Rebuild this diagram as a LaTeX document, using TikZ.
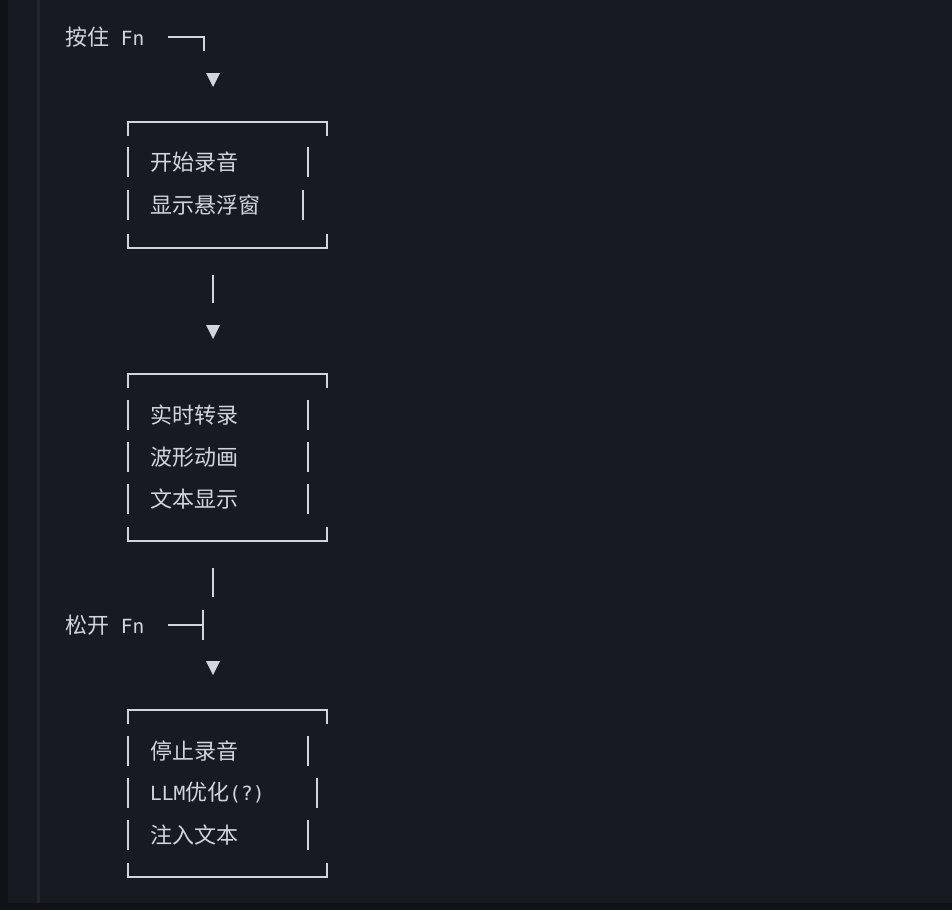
\documentclass[tikz,border=0pt]{standalone}
\usepackage{fontspec}
\setmainfont{DejaVu Sans Mono}
\newfontfamily\cjk{Noto Sans CJK SC}
\definecolor{bg}{HTML}{171B21}
\definecolor{bgdark}{HTML}{0F1216}
\definecolor{gut}{HTML}{22262D}
\definecolor{fg}{HTML}{D2D5DA}
\begin{document}
\begin{tikzpicture}[x=1pt,y=-1pt,
  txt/.style={anchor=west,inner sep=0pt,text=fg,font=\fontsize{19.5}{20}\selectfont},
  ln/.style={draw=fg,line width=1.4pt},
  tri/.style={fill=fg}]
\fill[bg] (0,0) rectangle (952,910);
\fill[bgdark] (0,0) rectangle (8,910);
\fill[gut] (37,0) rectangle (40,903);
\fill[bgdark] (0,903) rectangle (952,910);
\newcommand{\tri}[2]{\fill[tri] (#1-7,#2-7) -- (#1+7,#2-7) -- (#1,#2+7) -- cycle;}
\newcommand{\zh}[1]{{\cjk\fontsize{22}{24}\selectfont #1}}
\newcommand{\mybox}[2]{% top, bottom
  \draw[ln] (128,#1+14) -- (128,#1) -- (327,#1) -- (327,#1+14);
  \draw[ln] (128,#2-14) -- (128,#2) -- (327,#2) -- (327,#2-14);}
\newcommand{\bars}[2]{% y, right x
  \draw[ln] (128,#1-15) -- (128,#1+15);
  \draw[ln] (#2,#1-15) -- (#2,#1+15);}
% start
\node[txt] (press) at (65,37) {\zh{按住} Fn};
\coordinate (p1) at (204,37);
\draw[ln] (168,37) -- (p1) -- (204,51);
\tri{213}{80}
\mybox{122}{248}
\node[txt] (a1) at (150,162) {\zh{开始录音}}; \bars{162}{308}
\node[txt] (a2) at (150,205) {\zh{显示悬浮窗}}; \bars{205}{303}
\draw[ln] (213,275) -- (213,303);
\tri{213}{332}
\mybox{374}{541}
\node[txt] (b1) at (150,415) {\zh{实时转录}}; \bars{415}{308}
\node[txt] (b2) at (150,457) {\zh{波形动画}}; \bars{457}{308}
\node[txt] (b3) at (150,499) {\zh{文本显示}}; \bars{499}{308}
\draw[ln] (213,568) -- (213,597);
\node[txt] (release) at (65,625) {\zh{松开} Fn};
\draw[ln] (168,625) -- (203,625);
\draw[ln] (203,610) -- (203,640);
\tri{213}{668}
\mybox{710}{877}
\node[txt] (c1) at (150,751) {\zh{停止录音}}; \bars{751}{308}
\node[txt] (c2) at (150,793) {LLM\zh{优化}(?)}; \bars{793}{317}
\node[txt] (c3) at (150,835) {\zh{注入文本}}; \bars{835}{308}
\end{tikzpicture}
\end{document}
